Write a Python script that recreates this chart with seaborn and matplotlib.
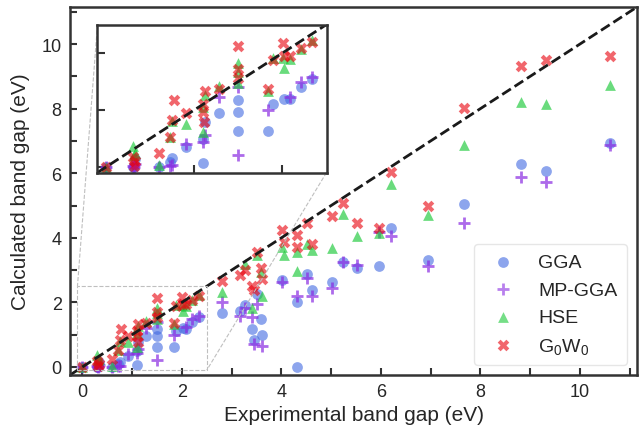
import numpy as np
import pandas as pd
import matplotlib
matplotlib.use("Agg")
import matplotlib.pyplot as plt
import seaborn as sns
from matplotlib.ticker import MultipleLocator
from mpl_toolkits.axes_grid1.inset_locator import mark_inset

nan = np.nan

# Experimental band gaps (eV) and the gaps calculated by each method
exp_gap = [0.00, 0.30, 0.33, 0.31, 0.60, 0.72, 0.75, 0.77, 0.91, 1.12,
           1.10, 1.10, 1.11, 1.28, 1.49, 1.50, 1.50, 1.84, 1.89, 2.01,
           2.02, 2.08, 2.21, 2.34, 2.81, 3.17, 3.27, 3.41, 3.45, 3.51,
           3.60, 3.61, 4.01, 4.05, 4.31, 4.31, 4.51, 4.61, 5.01, 5.23,
           5.52, 5.96, 6.20, 6.94, 7.68, 8.81, 9.32, 10.60]
gga = [0.00, 0.00, 0.14, 0.00, 0.00, 0.08, 0.16, nan, 0.35, 0.78,
       0.49, 0.07, nan, 0.95, 1.18, 0.96, 0.63, 0.63, 1.10, nan,
       1.20, 1.19, 1.40, 1.55, 1.67, 1.72, 1.93, 1.18, 0.82, 2.27,
       1.49, 0.99, 2.68, nan, 2.01, 0.00, 2.89, 2.37, 2.63, 3.25,
       3.07, 3.14, 4.29, 3.30, 5.04, 6.30, 6.08, 6.93]
mp_gga = [0.00, 0.02, 0.05, 0.00, 0.00, 0.02, 0.03, nan, 0.40, 0.56,
          0.44, nan, nan, 1.22, 1.40, nan, 0.20, 1.00, nan, nan,
          nan, 1.23, 1.49, 1.58, 2.01, 1.57, 1.84, 1.54, 0.71, 1.96,
          nan, 0.65, 2.63, nan, 2.21, nan, 2.76, 2.21, 2.44, 3.25,
          3.15, 4.19, 4.06, 3.13, 4.45, 5.87, 5.74, 6.87]
hse = [0.00, 0.37, 0.25, 0.20, 0.03, 0.52, 0.80, nan, 0.76, 1.27,
       1.05, 0.61, nan, 1.42, 1.83, 1.66, 1.48, 1.33, 1.92, 1.91,
       1.74, 1.90, 2.07, 2.22, 2.32, nan, 3.20, 1.82, nan, 3.46,
       2.94, 2.21, 3.72, 3.46, 3.56, 2.96, 3.82, 3.61, 3.70, 4.73,
       4.05, 4.16, 5.68, 4.70, 6.87, 8.22, 8.14, 8.72]
g0w0 = [0.00, 0.17, 0.10, 0.02, 0.24, 0.53, 0.83, 1.18, 0.95, 1.33,
        1.10, 0.97, 0.78, 1.36, 2.13, 1.71, 1.56, 1.36, 1.88, 2.17,
        1.94, 1.94, 2.08, 2.20, 2.65, 2.85, 2.99, 2.52, 2.37, 3.56,
        3.06, 2.73, 4.23, 3.87, 4.08, 3.72, 4.46, 3.82, 4.68, 5.09,
        4.46, 4.31, 6.05, 4.98, 8.01, 9.31, 9.51, 9.64]

method_names = ["GGA", "MP-GGA", "HSE", "G$_0$W$_0$"]
method_values = [gga, mp_gga, hse, g0w0]

df = pd.DataFrame({
    "Experimental": exp_gap * len(method_names),
    "Calculated": sum(method_values, []),
    "Method": np.repeat(method_names, len(exp_gap)),
})

styles = {
    "GGA":        dict(marker="o", color="#4169e1", alpha=0.6, s=60, linewidth=0),
    "MP-GGA":     dict(marker="+", color="#8a2be2", alpha=0.7, s=80, linewidth=2),
    "HSE":        dict(marker="^", color="#1ac938", alpha=0.65, s=60, linewidth=0),
    "G$_0$W$_0$": dict(marker="X", color="#e8000b", alpha=0.6, s=70, linewidth=0),
}

sns.set_theme(style="ticks")
plt.rcParams["font.family"] = ["Liberation Sans", "DejaVu Sans"]
plt.rcParams["mathtext.default"] = "regular"

fig = plt.figure(figsize=(6.41, 4.35), dpi=100)
ax = fig.add_axes([0.1092, 0.1356, 0.8846, 0.846])
axins = fig.add_axes([0.1521, 0.6011, 0.3573, 0.3402])

lims = (-0.25, 11.15)
ins_lims = (-0.1, 2.5)


def draw(target, legend):
    for name in method_names:
        sub = df[df["Method"] == name]
        sns.scatterplot(data=sub, x="Experimental", y="Calculated",
                        label=name if legend else None, ax=target,
                        legend=legend, **styles[name])


draw(ax, True)
ax.plot(lims, lims, "k--", lw=2, zorder=1)
ax.set_xlim(lims)
ax.set_ylim(lims)
ax.xaxis.set_major_locator(MultipleLocator(2))
ax.yaxis.set_major_locator(MultipleLocator(2))
ax.xaxis.set_minor_locator(MultipleLocator(1))
ax.yaxis.set_minor_locator(MultipleLocator(1))
ax.tick_params(which="both", direction="in", length=5, width=1.5,
               labelsize=13, color="0.2", pad=6)
ax.set_xlabel("Experimental band gap (eV)", fontsize=15, labelpad=3)
ax.set_ylabel("Calculated band gap (eV)", fontsize=15, labelpad=8)
for sp in ax.spines.values():
    sp.set_linewidth(1.8)
    sp.set_color("0.2")

leg = ax.legend(loc="lower right", fontsize=14, frameon=True,
                fancybox=True, edgecolor="0.9", framealpha=1,
                borderpad=0.5)
for h in leg.legend_handles:
    h.set_alpha(0.6)

draw(axins, False)
axins.plot(ins_lims, ins_lims, "k--", lw=2, zorder=1)
axins.set_xlim(ins_lims)
axins.set_ylim(ins_lims)
axins.set_xticks([0, 1, 2])
axins.set_yticks([0, 1, 2])
axins.set_xticklabels([])
axins.set_yticklabels([])
axins.set_xlabel("")
axins.set_ylabel("")
axins.tick_params(direction="in", length=6, width=1.5, color="0.2")
for sp in axins.spines.values():
    sp.set_linewidth(1.8)
    sp.set_color("0.2")

_, c1, c2 = mark_inset(ax, axins, loc1=2, loc2=4, fc="none", ec="0.75",
                       ls="--", lw=0.8)

fig.savefig("out.png", dpi=100)
